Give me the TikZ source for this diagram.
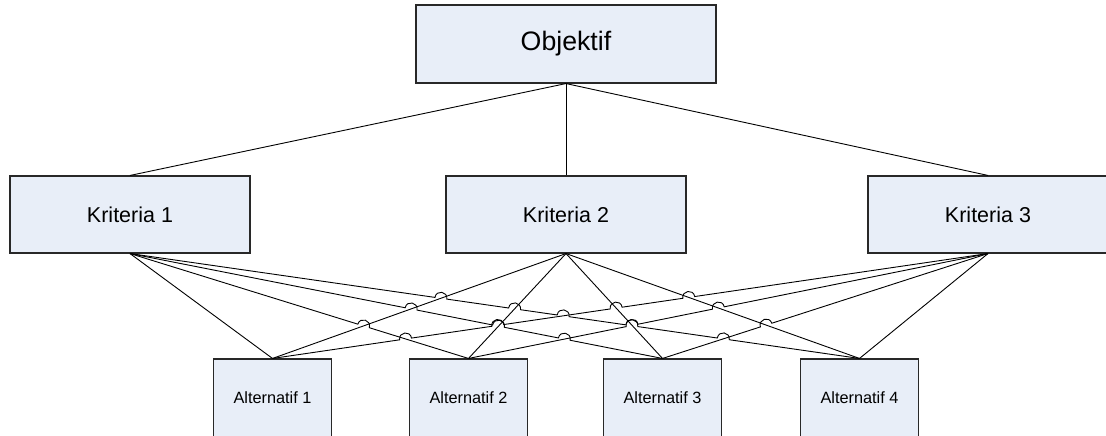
\documentclass[tikz,border=0pt]{standalone}
\usepackage{fontspec}
\setmainfont{Liberation Sans}
\usetikzlibrary{calc,intersections}
\definecolor{boxfill}{RGB}{232,238,248}
\definecolor{boxline}{RGB}{40,40,40}
\newcommand{\jr}{6pt}
% #1 jump name, #2 crossing point, #3 left end, #4 right end
\newcommand{\mkjump}[4]{%
  \coordinate (#1a) at ($(#2)!\jr!(#3)$);
  \coordinate (#1b) at ($(#2)!\jr!(#4)$);
  \coordinate (#1c) at ($(#1a)!1.3333!90:(#2)$);
  \coordinate (#1d) at ($(#1b)!1.3333!-90:(#2)$);
}
\begin{document}
\begin{tikzpicture}[x=1pt,y=-1pt,
  box/.style={draw=boxline, line width=1.1pt, fill=boxfill, inner sep=0pt, align=center},
  topbox/.style={box, minimum width=300pt, minimum height=78pt, font=\fontsize{26.7}{30}\selectfont},
  midbox/.style={box, minimum width=240pt, minimum height=77pt, font=\fontsize{21.5}{24}\selectfont},
  altbox/.style={box, minimum width=118pt, minimum height=78pt, font=\fontsize{16.3}{19}\selectfont},
  conn/.style={draw=black, line width=0.9pt}]
\useasboundingbox (0,0) rectangle (1106,436);

\node[topbox] (obj) at (566,44) {Objektif};
\node[midbox] (K1) at (130,214.5) {Kriteria 1};
\node[midbox] (K2) at (566,214.5) {Kriteria 2};
\node[midbox] (K3) at (988,214.5) {Kriteria 3};
\node[altbox] (A1) at (272.5,398) {Alternatif 1};
\node[altbox] (A2) at (468.5,398) {Alternatif 2};
\node[altbox] (A3) at (662.5,398) {Alternatif 3};
\node[altbox] (A4) at (859.5,398) {Alternatif 4};

% top connectors
\draw[conn] (obj.south) -- (K1.north);
\draw[conn] (obj.south) -- (K2.north);
\draw[conn] (obj.south) -- (K3.north);

% named (invisible) paths for crossings
\path[name path=k1a2] (K1.south) -- (A2.north);
\path[name path=k1a3] (K1.south) -- (A3.north);
\path[name path=k1a4] (K1.south) -- (A4.north);
\path[name path=k2a1] (K2.south) -- (A1.north);
\path[name path=k2a2] (K2.south) -- (A2.north);
\path[name path=k2a3] (K2.south) -- (A3.north);
\path[name path=k2a4] (K2.south) -- (A4.north);
\path[name path=k3a1] (K3.south) -- (A1.north);
\path[name path=k3a2] (K3.south) -- (A2.north);
\path[name path=k3a3] (K3.south) -- (A3.north);

\path[name intersections={of=k1a2 and k2a1, by=p1}];
\path[name intersections={of=k1a3 and k2a1, by=p2}];
\path[name intersections={of=k1a3 and k2a2, by=p3}];
\path[name intersections={of=k1a3 and k3a2, by=p4}];
\path[name intersections={of=k1a4 and k2a1, by=p5}];
\path[name intersections={of=k1a4 and k2a2, by=p6}];
\path[name intersections={of=k1a4 and k3a1, by=p7}];
\path[name intersections={of=k1a4 and k2a3, by=p8x}];
\path[name intersections={of=k1a4 and k3a2, by=p8y}];
\coordinate (p8) at ($(p8x)!0.5!(p8y)$);
\path[name intersections={of=k1a4 and k3a3, by=p9}];
\path[name intersections={of=k3a1 and k1a2, by=p10}];
\path[name intersections={of=k3a1 and k1a3, by=p11x}];
\path[name intersections={of=k3a1 and k2a2, by=p11y}];
\coordinate (p11) at ($(p11x)!0.5!(p11y)$);
\path[name intersections={of=k3a1 and k2a3, by=p12}];
\path[name intersections={of=k3a1 and k2a4, by=p13}];
\path[name intersections={of=k3a2 and k2a3, by=p14}];
\path[name intersections={of=k3a2 and k2a4, by=p15}];
\path[name intersections={of=k3a3 and k2a4, by=p16}];

\mkjump{j1}{p1}{K1.south}{A2.north}
\mkjump{j2}{p2}{K1.south}{A3.north}
\mkjump{j3}{p3}{K1.south}{A3.north}
\mkjump{j4}{p4}{K1.south}{A3.north}
\mkjump{j5}{p5}{K1.south}{A4.north}
\mkjump{j6}{p6}{K1.south}{A4.north}
\mkjump{j7}{p7}{K1.south}{A4.north}
\mkjump{j8}{p8}{K1.south}{A4.north}
\mkjump{j9}{p9}{K1.south}{A4.north}
\mkjump{j10}{p10}{A1.north}{K3.south}
\mkjump{j11}{p11}{A1.north}{K3.south}
\mkjump{j12}{p12}{A1.north}{K3.south}
\mkjump{j13}{p13}{A1.north}{K3.south}
\mkjump{j14}{p14}{A2.north}{K3.south}
\mkjump{j15}{p15}{A2.north}{K3.south}
\mkjump{j16}{p16}{A3.north}{K3.south}

% connectors without jumps
\draw[conn] (K1.south) -- (A1.north);
\draw[conn] (K2.south) -- (A1.north);
\draw[conn] (K2.south) -- (A2.north);
\draw[conn] (K2.south) -- (A3.north);
\draw[conn] (K2.south) -- (A4.north);
\draw[conn] (K3.south) -- (A4.north);

% connectors with line jumps
\draw[conn] (K1.south) -- (j1a) .. controls (j1c) and (j1d) .. (j1b) -- (A2.north);
\draw[conn] (K1.south) -- (j2a) .. controls (j2c) and (j2d) .. (j2b)
  -- (j3a) .. controls (j3c) and (j3d) .. (j3b)
  -- (j4a) .. controls (j4c) and (j4d) .. (j4b) -- (A3.north);
\draw[conn] (K1.south) -- (j5a) .. controls (j5c) and (j5d) .. (j5b)
  -- (j6a) .. controls (j6c) and (j6d) .. (j6b)
  -- (j7a) .. controls (j7c) and (j7d) .. (j7b)
  -- (j8a) .. controls (j8c) and (j8d) .. (j8b)
  -- (j9a) .. controls (j9c) and (j9d) .. (j9b) -- (A4.north);
\draw[conn] (A1.north) -- (j10a) .. controls (j10c) and (j10d) .. (j10b)
  -- (j11a) .. controls (j11c) and (j11d) .. (j11b)
  -- (j12a) .. controls (j12c) and (j12d) .. (j12b)
  -- (j13a) .. controls (j13c) and (j13d) .. (j13b) -- (K3.south);
\draw[conn] (A2.north) -- (j14a) .. controls (j14c) and (j14d) .. (j14b)
  -- (j15a) .. controls (j15c) and (j15d) .. (j15b) -- (K3.south);
\draw[conn] (A3.north) -- (j16a) .. controls (j16c) and (j16d) .. (j16b) -- (K3.south);
\end{tikzpicture}
\end{document}
